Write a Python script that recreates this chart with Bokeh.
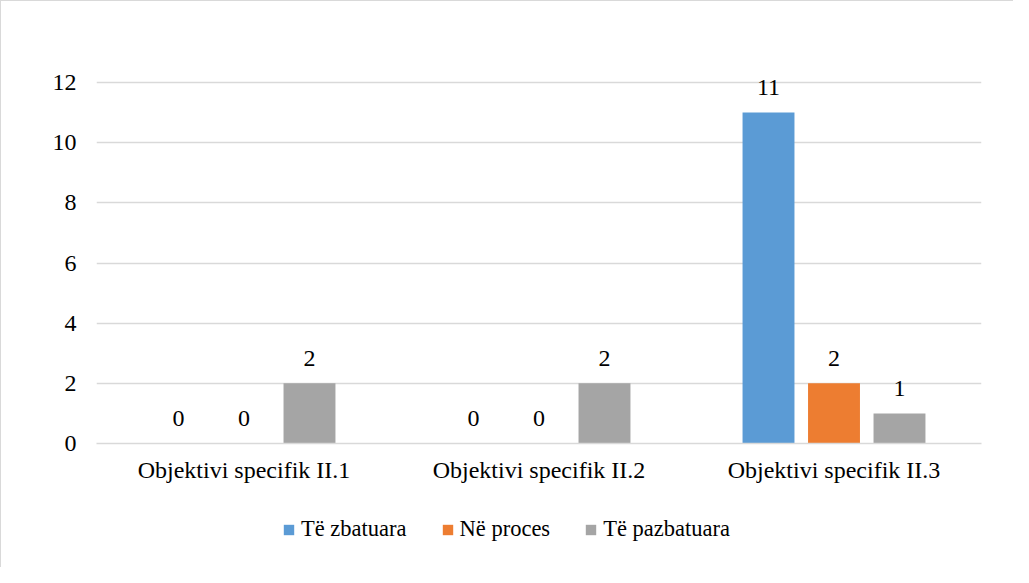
from bokeh.plotting import figure
from bokeh.layouts import column
from bokeh.models import ColumnDataSource, FactorRange, FixedTicker, Legend, LegendItem
from bokeh.transform import dodge
from bokeh.core.properties import value
from bokeh.embed import file_html
from bokeh.resources import INLINE

categories = ["Objektivi specifik II.1", "Objektivi specifik II.2", "Objektivi specifik II.3"]
series_names = ["Të zbatuara", "Në proces", "Të pazbatuara"]
te_zbatuara = [0, 0, 11]
ne_proces = [0, 0, 2]
te_pazbatuara = [2, 2, 1]
colors = ["#5B9BD5", "#ED7D31", "#A5A5A5"]
y_ticks = [0, 2, 4, 6, 8, 10, 12]

FONT = "Liberation Serif"
FS = "24px"
LFS = "22.5px"

src = ColumnDataSource(dict(
    cat=categories,
    s0=te_zbatuara, s1=ne_proces, s2=te_pazbatuara,
    t0=[str(v) for v in te_zbatuara],
    t1=[str(v) for v in ne_proces],
    t2=[str(v) for v in te_pazbatuara],
))

p = figure(
    x_range=FactorRange(*categories, range_padding=0),
    y_range=(0, 12.5),
    width=1012, height=500,
    output_backend="svg", toolbar_location=None,
    min_border_left=95, min_border_right=32, min_border_top=66, min_border_bottom=58,
)
p.outline_line_color = None
p.background_fill_color = "white"
p.border_fill_color = "white"

offsets = [-0.222, 0.0, 0.222]
bar_w = 0.176
for i, (off, col) in enumerate(zip(offsets, colors)):
    p.vbar(x=dodge("cat", off, range=p.x_range), top=f"s{i}", width=bar_w,
           source=src, fill_color=col, line_color=None)
    p.text(x=dodge("cat", off, range=p.x_range), y=f"s{i}", text=f"t{i}", source=src,
           text_align="center", text_baseline="middle", y_offset=-25,
           text_font=value(FONT), text_font_size=FS, text_color="#000000")

p.xgrid.grid_line_color = None
p.ygrid.grid_line_color = "#d9d9d9"
p.ygrid.grid_line_width = 1.5
p.yaxis.ticker = FixedTicker(ticks=y_ticks)

p.yaxis.axis_line_color = None
p.yaxis.major_tick_line_color = None
p.yaxis.minor_tick_line_color = None
p.yaxis.major_tick_out = 0
p.yaxis.major_label_standoff = 20
p.yaxis.major_label_text_font = FONT
p.yaxis.major_label_text_font_size = FS
p.yaxis.major_label_text_color = "#000000"

p.xaxis.axis_line_color = "#d9d9d9"
p.xaxis.axis_line_width = 1.5
p.xaxis.major_tick_line_color = None
p.xaxis.minor_tick_line_color = None
p.xaxis.major_tick_out = 0
p.xaxis.major_label_standoff = 13
p.xaxis.major_label_text_font = FONT
p.xaxis.major_label_text_font_size = FS
p.xaxis.major_label_text_color = "#000000"

# legend strip below the chart (frame aligned with the chart frame by the column layout)
pl = figure(width=1012, height=66, output_backend="svg", toolbar_location=None,
            x_range=(0, 1), y_range=(0, 1), x_axis_location=None, y_axis_location=None,
            min_border=0)
pl.outline_line_color = None
pl.grid.grid_line_color = None
items = []
for col, name in zip(colors, series_names):
    r = pl.vbar(x=[0], top=[0], width=0.0, fill_color=col, line_color=None)
    items.append(LegendItem(label=name, renderers=[r]))
legend = Legend(items=items, orientation="horizontal", location=(186, 25),
                padding=0, margin=0, spacing=34, glyph_width=13, glyph_height=13,
                label_standoff=6, label_text_font=FONT, label_text_font_size=LFS,
                label_text_color="#000000", border_line_color=None,
                background_fill_alpha=0)
pl.add_layout(legend, "center")

layout = column(p, pl, spacing=0)
layout.styles = {"border-left": "1px solid #d9d9d9", "border-top": "1px solid #d9d9d9"}

open("out.html", "w").write(file_html(layout, INLINE))
